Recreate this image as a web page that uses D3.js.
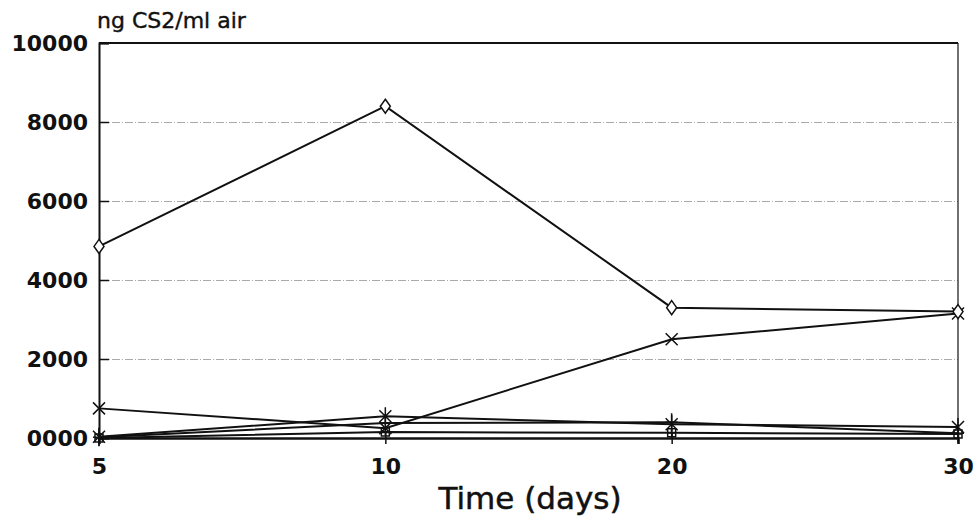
<!DOCTYPE html>
<html>
<head>
<meta charset="utf-8">
<script src="https://cdn.jsdelivr.net/npm/d3@7"></script>
<style>
  body { margin: 0; background: #fff; }
  text { font-family: "DejaVu Sans", sans-serif; fill: #111; }
  .grid line { stroke: #aaa; stroke-dasharray: 8,2,1,2; }
  .grid path { display: none; }
  .axis path, .axis line { stroke: #111; }
</style>
</head>
<body>
<div id="chart"></div>
<script>
var w = 979;
var h = 521;

var days = ["5", "10", "20", "30"];
var diamondSeries = [4850, 8400, 3300, 3200];
var crossSeries = [750, 250, 2500, 3150];
var starSeries = [30, 550, 350, 280];
var plusSeries = [20, 380, 400, 120];
var squareSeries = [0, 150, 130, 100];
var yTicks = [0, 2000, 4000, 6000, 8000, 10000];
var yTickLabels = ["0000", "2000", "4000", "6000", "8000", "10000"];

var svg = d3
  .select("#chart")
  .append("svg")
  .attr("width", w)
  .attr("height", h);

var x = d3
  .scalePoint()
  .domain(days)
  .range([99, 958]);

var y = d3
  .scaleLinear()
  .domain([0, 10000])
  .range([438, 43]);

// dashed grid lines
svg.append("g")
  .attr("class", "grid")
  .attr("transform", "translate(99,0)")
  .call(d3.axisLeft(y).tickValues(yTicks.slice(1, -1)).tickSize(-859).tickFormat(""));

// frame top and right
svg.append("line")
  .attr("x1", x("5")).attr("x2", x("30"))
  .attr("y1", y(10000)).attr("y2", y(10000))
  .attr("stroke", "#111").attr("stroke-width", 2);
svg.append("line")
  .attr("x1", x("30")).attr("x2", x("30"))
  .attr("y1", y(10000)).attr("y2", y(0))
  .attr("stroke", "#111").attr("stroke-width", 1.2);

// Y axis
var yAxis = svg.append("g")
  .attr("class", "axis")
  .attr("transform", "translate(99,0)")
  .call(d3.axisLeft(y)
    .tickValues(yTicks)
    .tickSize(-10)
    .tickPadding(11)
    .tickFormat(function(d, i) { return yTickLabels[i]; }));
yAxis.select(".domain").attr("stroke-width", 2);
yAxis.selectAll("line").attr("stroke-width", 1.5);
yAxis.selectAll("text")
  .style("font-size", "22px")
  .style("font-weight", "bold")
  .attr("fill", "#111");

// X axis
var xAxis = svg.append("g")
  .attr("class", "axis")
  .attr("transform", "translate(0," + y(0) + ")")
  .call(d3.axisBottom(x).tickSize(6).tickPadding(14));
xAxis.select(".domain").attr("stroke-width", 2.5);
xAxis.selectAll(".tick line").attr("y1", -6).attr("stroke-width", 1.5);
xAxis.selectAll("text")
  .style("font-size", "22px")
  .style("font-weight", "bold")
  .attr("fill", "#111");

svg.append("text")
  .attr("x", 97)
  .attr("y", 28)
  .style("font-size", "22px")
  .style("stroke", "#111")
  .style("stroke-width", 0.4)
  .text("ng CS2/ml air");

svg.append("text")
  .attr("x", 530)
  .attr("y", 509)
  .attr("text-anchor", "middle")
  .style("font-size", "31px")
  .style("stroke", "#111")
  .style("stroke-width", 0.5)
  .text("Time (days)");

var line = d3
  .line()
  .x(function(d, i) { return x(days[i]); })
  .y(function(d) { return y(d); });

var series = [
  { values: squareSeries, marker: "square" },
  { values: plusSeries, marker: "plus" },
  { values: starSeries, marker: "star" },
  { values: crossSeries, marker: "cross" },
  { values: diamondSeries, marker: "diamond" }
];

var markerPaths = {
  square: "M-4,-4L4,-4L4,4L-4,4Z M0,-4L0,4 M-4,0L4,0",
  plus: "M0,-9L0,9 M-6,0L6,0",
  star: "M-6,-6L6,6 M-6,6L6,-6 M0,-9L0,9",
  cross: "M-6,-6L6,6 M-6,6L6,-6",
  diamond: "M0,-7L5,0L0,7L-5,0Z"
};

series.forEach(function(s) {
  svg.append("path")
    .datum(s.values)
    .attr("d", line)
    .attr("fill", "none")
    .attr("stroke", "#111")
    .attr("stroke-width", 2);

  svg.selectAll(null)
    .data(s.values)
    .enter()
    .append("path")
    .attr("transform", function(d, i) {
      return "translate(" + x(days[i]) + "," + y(d) + ")";
    })
    .attr("d", markerPaths[s.marker])
    .attr("fill", s.marker == "diamond" ? "#fff" : "none")
    .attr("stroke", "#111")
    .attr("stroke-width", 1.5);
});
</script>
</body>
</html>
